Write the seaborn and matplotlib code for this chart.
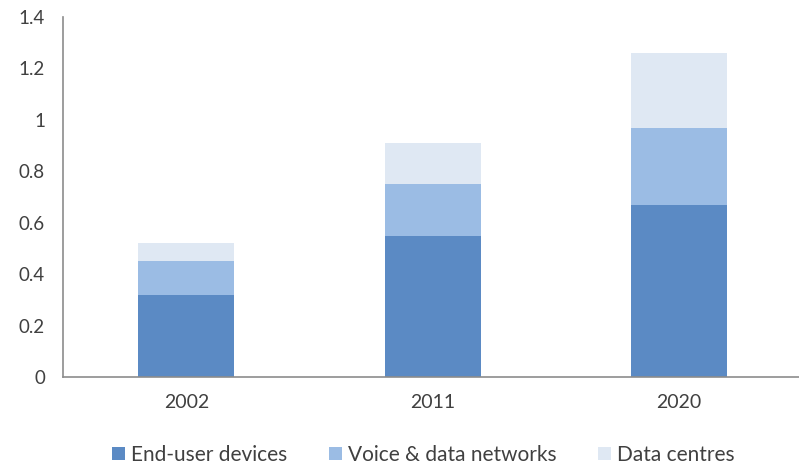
import numpy as np
import pandas as pd
import matplotlib.pyplot as plt
import seaborn as sns
from matplotlib.patches import Patch
from matplotlib.ticker import FixedLocator

sns.set_style("white")
plt.rcParams['font.family'] = ['Lato', 'DejaVu Sans']

years = ["2002", "2011", "2020"]
end_user = [0.32, 0.55, 0.67]
voice_data = [0.13, 0.20, 0.30]
data_centres = [0.07, 0.16, 0.29]
series = ["End-user devices", "Voice & data networks", "Data centres"]
colors = ["#5b8ac4", "#9bbce4", "#dfe8f3"]

df = pd.DataFrame({"year": years, "end": end_user, "voice": voice_data, "dc": data_centres})
df["lvl1"] = df["end"]
df["lvl2"] = df["end"] + df["voice"]
df["lvl3"] = df["lvl2"] + df["dc"]

fig = plt.figure(figsize=(7.99, 4.69), dpi=100)
ax = fig.add_axes([0.079, 0.196, 0.925, 0.768])

# stacked: draw cumulative totals back to front
for col, c in zip(["lvl3", "lvl2", "lvl1"], colors[::-1]):
    sns.barplot(data=df, x="year", y=col, color=c, width=0.39, ax=ax,
                saturation=1, linewidth=0)

ax.set_xlim(-0.5, 2.5)
ax.set_ylim(0, 1.4)
ax.set_yticks(np.arange(0, 1.41, 0.2))
ax.set_yticklabels(["0", "0.2", "0.4", "0.6", "0.8", "1", "1.2", "1.4"])
ax.set_xlabel("")
ax.set_ylabel("")

for s in ["top", "right"]:
    ax.spines[s].set_visible(False)
for s in ["left", "bottom"]:
    ax.spines[s].set_color("#8c8c8c")
    ax.spines[s].set_linewidth(1.2)

ax.tick_params(axis="y", which="major", length=5, color="#8c8c8c", direction="out",
               labelsize=13.5, labelcolor="#404040", pad=8)
ax.tick_params(axis="x", which="major", length=0, labelsize=14, labelcolor="#404040", pad=12)
ax.xaxis.set_minor_locator(FixedLocator([0.5, 1.5]))
ax.tick_params(axis="x", which="minor", length=6, color="#8c8c8c", direction="out")

handles = [Patch(facecolor=c, edgecolor="none", label=l) for c, l in zip(colors, series)]
fig.legend(handles=handles, loc="center", bbox_to_anchor=(0.53, 0.03), ncol=3, frameon=False,
           fontsize=15, handlelength=0.6, handleheight=0.6, handletextpad=0.3,
           columnspacing=2.0, labelcolor="#404040")

fig.savefig("out.png", dpi=100)
